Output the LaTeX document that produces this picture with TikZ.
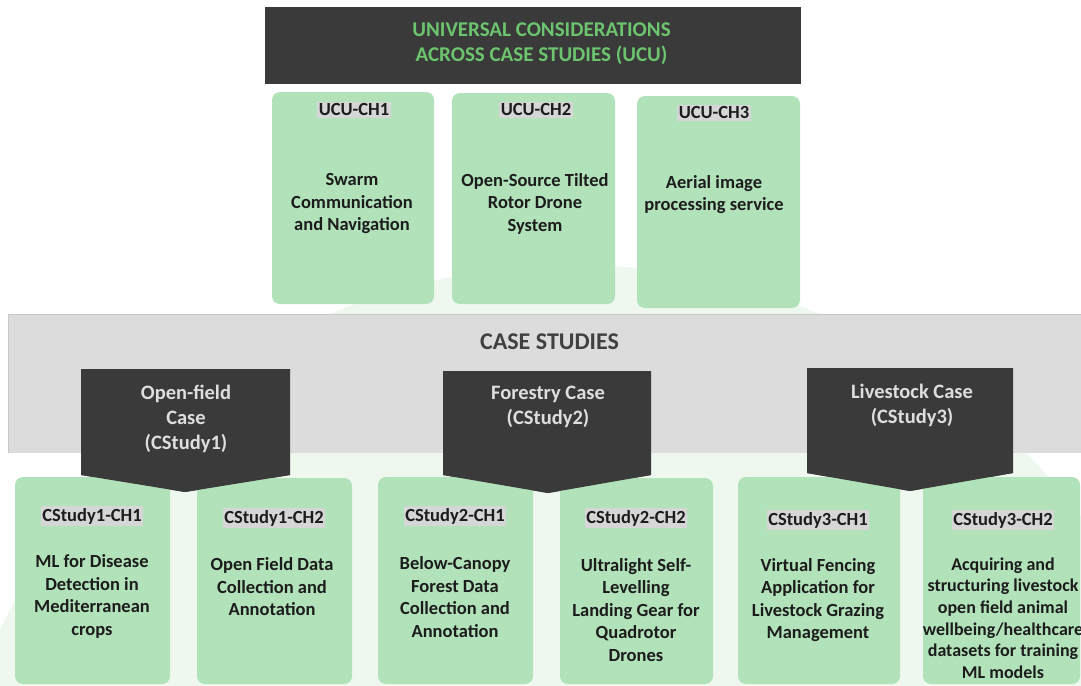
\documentclass[tikz,border=0pt]{standalone}
\usepackage{fontspec}
\setmainfont{Carlito}
\definecolor{boxgreen}{HTML}{B2E2BA}
\definecolor{wmgreen}{HTML}{EEF8EF}
\definecolor{darkbox}{HTML}{3A3A3A}
\definecolor{titlegreen}{HTML}{6CC56E}
\definecolor{bandgray}{HTML}{DCDCDC}
\definecolor{bandline}{HTML}{C8C8C8}
\definecolor{hlgray}{HTML}{D6D6D6}
\definecolor{pentext}{HTML}{DEDEDE}
\definecolor{bodytext}{HTML}{1C1C1C}
\definecolor{casetext}{HTML}{404040}
\tikzset{
  gbox/.style={fill=boxgreen, draw=none, rounded corners=8pt, inner sep=0pt},
  lab/.style={fill=hlgray, inner xsep=1.5pt, inner ysep=2pt, text=bodytext,
    font=\bfseries\fontsize{18.5}{22.5}\selectfont},
  body/.style={align=center, inner sep=0pt, text=bodytext,
    font=\bfseries\fontsize{18.5}{22.5}\selectfont},
  pent/.style={fill=darkbox, draw=none},
  pentlbl/.style={align=center, inner sep=0pt, text=pentext,
    font=\bfseries\fontsize{20.5}{25}\selectfont}
}
\begin{document}
\begin{tikzpicture}[x=1pt,y=-1pt]
\useasboundingbox (0,0) rectangle (1081,685);
\clip (0,0) rectangle (1081,685);
\fill[white] (0,0) rectangle (1081,685);
% faint background watermark
\fill[wmgreen] (575,900) circle[radius=635pt];

% top title box
\node[fill=darkbox, minimum width=536pt, minimum height=77pt, inner sep=0pt] (ucu) at (533,45.5) {};
\node[align=center, inner sep=0pt, text=titlegreen, font=\bfseries\fontsize{21}{25}\selectfont] (ucut) at (541.5,43.5)
  {UNIVERSAL CONSIDERATIONS\\ACROSS CASE STUDIES (UCU)};

% UCU boxes
\node[gbox, minimum width=162pt, minimum height=212pt] (u1) at (353,198) {};
\node[gbox, minimum width=163pt, minimum height=211pt] (u2) at (533.5,198.5) {};
\node[gbox, minimum width=163pt, minimum height=212pt] (u3) at (718.5,202) {};
\node[lab] (u1l) at (354,110) {UCU-CH1};
\node[lab] (u2l) at (536,110) {UCU-CH2};
\node[lab] (u3l) at (714,113) {UCU-CH3};
\node[body] (u1b) at (352,203.5) {Swarm\\Communication\\and Navigation};
\node[body] (u2b) at (535,203.5) {Open-Source Tilted\\Rotor Drone\\System};
\node[body] (u3b) at (714,194.5) {Aerial image\\processing service};

% case studies band
\fill[bandgray] (8,314) rectangle (1090,453);
\draw[bandline, line width=0.8pt] (8,453) -- (8,314) -- (1090,314);
\node[inner sep=0pt, text=casetext, font=\bfseries\fontsize{24}{28}\selectfont] (cs) at (549.5,342) {CASE STUDIES};

% pentagons
\coordinate (p1a) at (81,369);  \coordinate (p1b) at (290,369);
\coordinate (p1c) at (290,475); \coordinate (p1d) at (185,492); \coordinate (p1e) at (81,475);
\fill[pent] (p1a) -- (p1b) -- (p1c) -- (p1d) -- (p1e) -- cycle;
\coordinate (p2a) at (443,371);  \coordinate (p2b) at (651,371);
\coordinate (p2c) at (651,475); \coordinate (p2d) at (548,493); \coordinate (p2e) at (443,475);
\fill[pent] (p2a) -- (p2b) -- (p2c) -- (p2d) -- (p2e) -- cycle;
\coordinate (p3a) at (807,368);  \coordinate (p3b) at (1013,368);
\coordinate (p3c) at (1013,473); \coordinate (p3d) at (910,491); \coordinate (p3e) at (807,473);
\fill[pent] (p3a) -- (p3b) -- (p3c) -- (p3d) -- (p3e) -- cycle;
\node[pentlbl] (c1) at (186,418.5) {Open-field\\Case\\(CStudy1)};
\node[pentlbl] (c2) at (548,407) {Forestry Case\\(CStudy2)};
\node[pentlbl] (c3) at (912,405) {Livestock Case\\(CStudy3)};

% bottom boxes
\node[gbox, minimum width=155pt, minimum height=207pt] (b1) at (92.5,580.5) {};
\node[gbox, minimum width=155pt, minimum height=206pt] (b2) at (274.5,581) {};
\node[gbox, minimum width=155pt, minimum height=207pt] (b3) at (455.5,580.5) {};
\node[gbox, minimum width=153pt, minimum height=206pt] (b4) at (636.5,581) {};
\node[gbox, minimum width=162pt, minimum height=207pt] (b5) at (819,580.5) {};
\node[gbox, minimum width=157pt, minimum height=207pt] (b6) at (1001.5,580.5) {};
% redraw pentagon tips above the boxes
\fill[pent] (p1e) -- (p1c) -- (p1d) -- cycle;
\fill[pent] (p2e) -- (p2c) -- (p2d) -- cycle;
\fill[pent] (p3e) -- (p3c) -- (p3d) -- cycle;

\node[lab] (b1l) at (92,516) {CStudy1-CH1};
\node[lab] (b2l) at (274,518) {CStudy1-CH2};
\node[lab] (b3l) at (455,516) {CStudy2-CH1};
\node[lab] (b4l) at (636,518) {CStudy2-CH2};
\node[lab] (b5l) at (818,520) {CStudy3-CH1};
\node[lab] (b6l) at (1003,520) {CStudy3-CH2};

\node[body] (b1b) at (92,596.5) {ML for Disease\\Detection in\\Mediterranean\\crops};
\node[body] (b2b) at (272,587) {Open Field Data\\Collection and\\Annotation};
\node[body] (b3b) at (455,597) {Below-Canopy\\Forest Data\\Collection and\\Annotation};
\node[body] (b4b) at (636,610) {Ultralight Self-\\Levelling\\Landing Gear for\\Quadrotor\\Drones};
\node[body] (b5b) at (818,600) {Virtual Fencing\\Application for\\Livestock Grazing\\Management};
\node[body, font=\bfseries\fontsize{18}{21.7}\selectfont] (b6b) at (1003,618)
  {Acquiring and\\structuring livestock\\open field animal\\wellbeing/healthcare\\datasets for training\\ML models};
\end{tikzpicture}
\end{document}
